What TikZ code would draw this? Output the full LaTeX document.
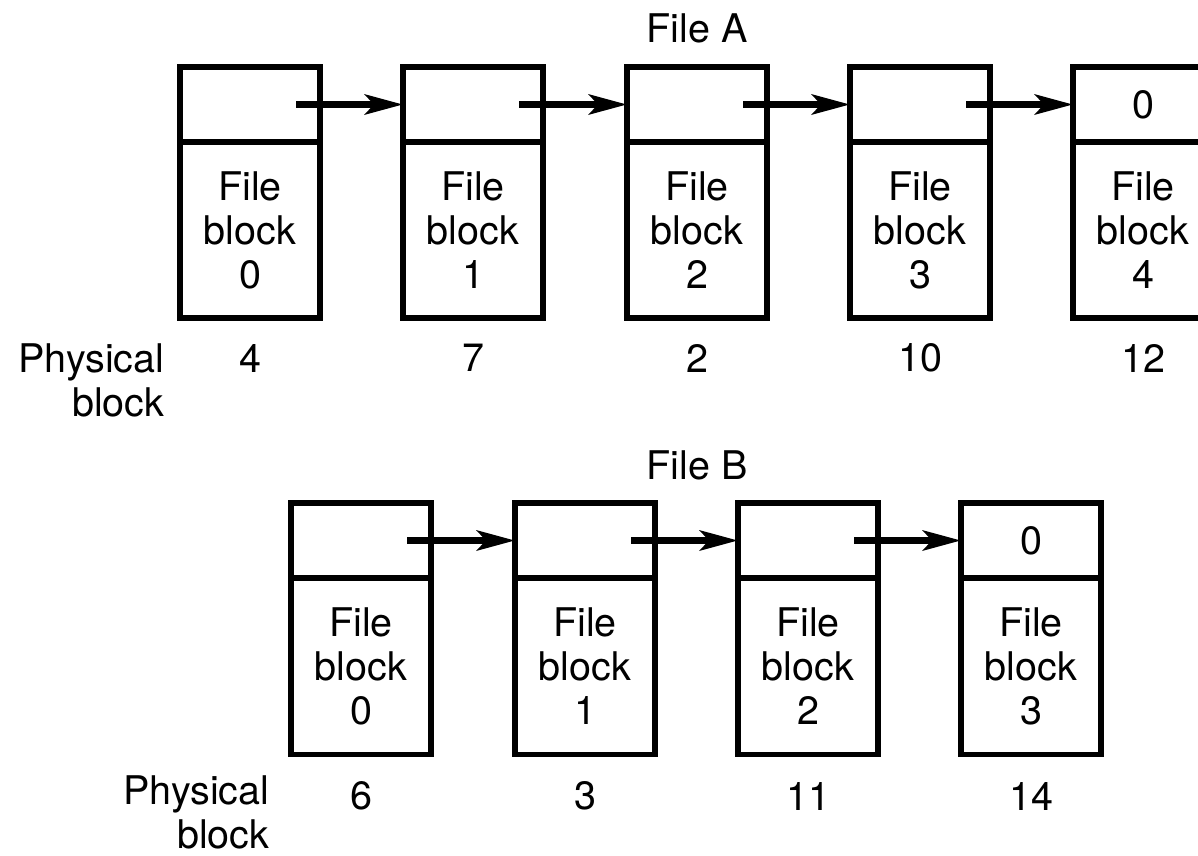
\documentclass[tikz,border=0pt]{standalone}
\usepackage{fontspec}
\setmainfont{TeX Gyre Heros}
\usetikzlibrary{arrows.meta}
\usetikzlibrary{positioning}

\tikzset{
  cell/.style={draw, line width=5.5pt, minimum width=140pt, inner sep=0pt, outer sep=0pt},
  ptrcell/.style={cell, minimum height=75pt},
  blkcell/.style={cell, minimum height=176pt, align=center},
  link/.style={-{Stealth[length=38pt,width=20pt,inset=9pt]}, line width=6.5pt},
}

\begin{document}
\begin{tikzpicture}[x=1pt, y=-1pt, font=\fontsize{39.5}{44}\selectfont]
      \clip (0,0) rectangle (1198,855);

      % file A
      \node (titleA) at (697,28) {File A};

      \node[ptrcell] (pA0) at (250,104.5) {};
      \node[ptrcell] (pA1) at (473,104.5) {};
      \node[ptrcell] (pA2) at (697,104.5) {};
      \node[ptrcell] (pA3) at (920,104.5) {};
      \node[ptrcell] (pA4) at (1143,104.5) {0};

      \node[blkcell] (bA0) at (250,230) {File\\block\\0};
      \node[blkcell] (bA1) at (473,230) {File\\block\\1};
      \node[blkcell] (bA2) at (697,230) {File\\block\\2};
      \node[blkcell] (bA3) at (920,230) {File\\block\\3};
      \node[blkcell] (bA4) at (1143,230) {File\\block\\4};

      \node[anchor=east, align=right] (physA) at (168,380) {Physical\\block};
      \node (nA0) at (250,358) {4};
      \node (nA1) at (473,358) {7};
      \node (nA2) at (697,358) {2};
      \node (nA3) at (920,358) {10};
      \node (nA4) at (1143,358) {12};

      \draw[link] ([xshift=-24pt]pA0.east) -- (pA1.west);
      \draw[link] ([xshift=-24pt]pA1.east) -- (pA2.west);
      \draw[link] ([xshift=-24pt]pA2.east) -- (pA3.west);
      \draw[link] ([xshift=-24pt]pA3.east) -- (pA4.west);

      % file B
      \node (titleB) at (697,465) {File B};

      \node[ptrcell] (pB0) at (361,540.5) {};
      \node[ptrcell] (pB1) at (585,540.5) {};
      \node[ptrcell] (pB2) at (808,540.5) {};
      \node[ptrcell] (pB3) at (1031,540.5) {0};

      \node[blkcell] (bB0) at (361,666.5) {File\\block\\0};
      \node[blkcell] (bB1) at (585,666.5) {File\\block\\1};
      \node[blkcell] (bB2) at (808,666.5) {File\\block\\2};
      \node[blkcell] (bB3) at (1031,666.5) {File\\block\\3};

      \node[anchor=east, align=right, inner ysep=0pt] (physB) at (273,812) {Physical\\block};
      \node (nB0) at (361,796) {6};
      \node (nB1) at (585,796) {3};
      \node (nB2) at (808,796) {11};
      \node (nB3) at (1031,796) {14};

      \draw[link] ([xshift=-24pt]pB0.east) -- (pB1.west);
      \draw[link] ([xshift=-24pt]pB1.east) -- (pB2.west);
      \draw[link] ([xshift=-24pt]pB2.east) -- (pB3.west);
    \end{tikzpicture}
\end{document}
